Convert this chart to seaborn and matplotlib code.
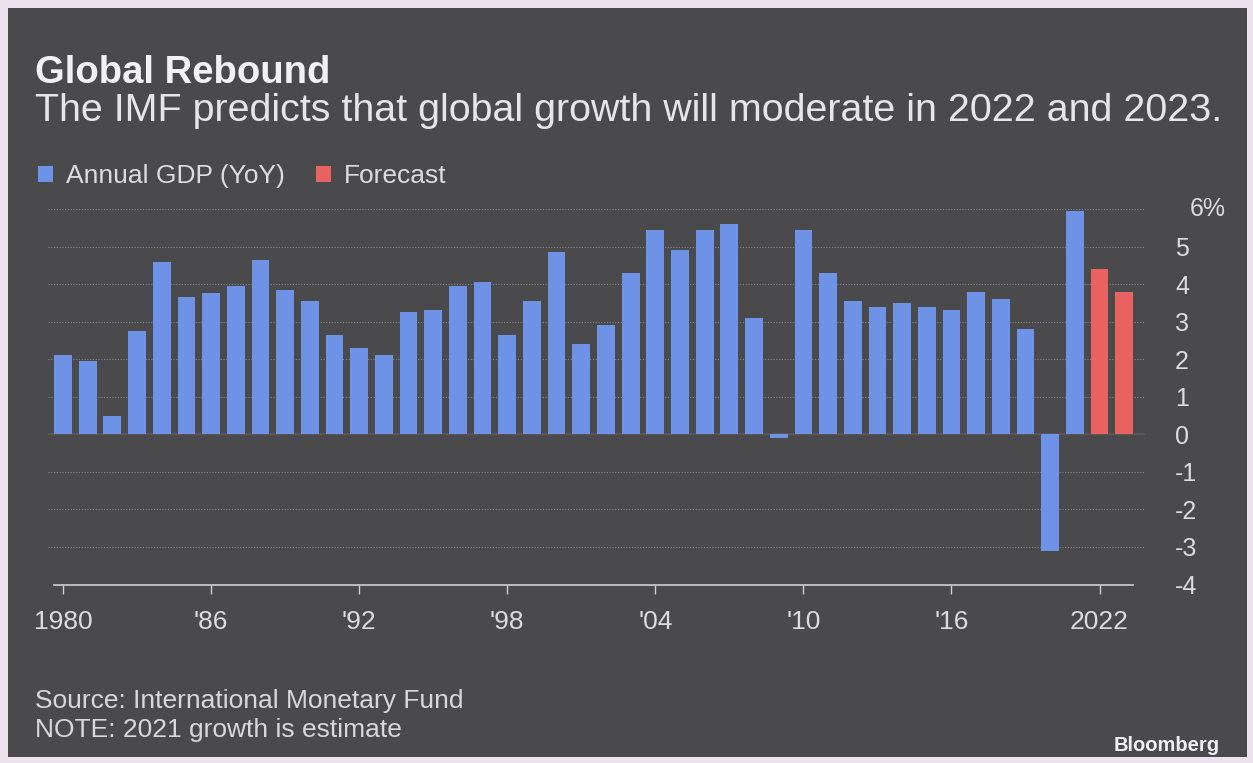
import matplotlib.pyplot as plt
import pandas as pd
import seaborn as sns
from matplotlib.patches import Rectangle

plt.rcParams['font.family'] = ['Liberation Sans', 'DejaVu Sans']

# data
years = list(range(1980, 2024))
gdp = [2.1, 1.95, 0.5, 2.75, 4.6, 3.65, 3.75, 3.95, 4.65, 3.85,
       3.55, 2.65, 2.3, 2.1, 3.25, 3.3, 3.95, 4.05, 2.65, 3.55,
       4.85, 2.4, 2.9, 4.3, 5.45, 4.9, 5.45, 5.6, 3.1, -0.1,
       5.45, 4.3, 3.55, 3.4, 3.5, 3.4, 3.3, 3.8, 3.6, 2.8,
       -3.1, 5.95, 4.4, 3.8]
series = ['Annual GDP (YoY)'] * 42 + ['Forecast'] * 2
tick_years = [1980, 1986, 1992, 1998, 2004, 2010, 2016, 2022]
tick_labels = ['1980', "'86", "'92", "'98", "'04", "'10", "'16", '2022']
y_ticks = list(range(-4, 7))

df = pd.DataFrame({'year': years, 'gdp': gdp, 'series': series})

W, H = 1253, 763
border = '#ebe4ee'
panel = '#4a4a4d'
txt = '#e6e6e6'

fig = plt.figure(figsize=(W / 100, H / 100), dpi=100, facecolor=border)
fig.patches.append(Rectangle((8 / W, 1 - 757 / H), 1239 / W, 749 / H,
                             transform=fig.transFigure, facecolor=panel,
                             edgecolor='none', zorder=-5))

ax = fig.add_axes([48.2 / W, 1 - 584.5 / H, 1097 / W, 375.5 / H])
ax.patch.set_visible(False)

sns.barplot(data=df, x='year', y='gdp', hue='series', order=years,
            palette={'Annual GDP (YoY)': '#6e93e6', 'Forecast': '#e8625f'},
            dodge=False, width=0.72, saturation=1, ax=ax, zorder=2)

handles, labels = ax.get_legend_handles_labels()
ax.get_legend().remove()

# dotted grid + zero line
for v in range(-3, 7):
    ax.axhline(v, ls=(0, (1, 1.5)), color='#b0b0b0', lw=0.8, alpha=0.6, zorder=1)
ax.axhline(0, color='#5e5458', lw=1.5, zorder=1)

ax.set_xlim(-0.6, 43.85)
ax.set_ylim(-4, 6)
ax.set_xticks([years.index(y) for y in tick_years])
ax.set_xticklabels(tick_labels)
ax.set_yticks(y_ticks)
ax.set_yticklabels([str(v) for v in y_ticks[:-1]] + [''])
ax.yaxis.tick_right()
ax.tick_params(axis='y', length=0, pad=21.5, labelsize=18, labelcolor='#dcdcdc')
ax.tick_params(axis='x', length=6.5, width=1, color='#cfcfcf', pad=12,
               labelsize=19, labelcolor='#dcdcdc')
ax.annotate('6%', xy=(1, 6), xycoords=('axes fraction', 'data'),
            xytext=(45, 0), textcoords='offset pixels', va='center', ha='left',
            fontsize=18, color='#dcdcdc')
ax.set_xlabel('')
ax.set_ylabel('')
for s in ['top', 'left', 'right']:
    ax.spines[s].set_visible(False)
ax.spines['bottom'].set_color('#d0d0d0')
ax.spines['bottom'].set_linewidth(1.2)
ax.spines['bottom'].set_bounds(-0.35, 43.35)

fig.legend(handles, labels, loc='center left', bbox_to_anchor=(38 / W, 1 - 176 / H),
           ncol=2, frameon=False, fontsize=19, handlelength=0.55, handleheight=0.55,
           handletextpad=0.5, columnspacing=1.2, borderpad=0, borderaxespad=0,
           labelcolor='#dcdcdc')

fig.text(35 / W, 1 - 83 / H, 'Global Rebound', fontsize=27.5, fontweight='bold',
         color='#f2f2f2', va='baseline')
fig.text(35 / W, 1 - 121 / H,
         'The IMF predicts that global growth will moderate in 2022 and 2023.',
         fontsize=28.4, color=txt, va='baseline')
fig.text(35 / W, 1 - 708 / H, 'Source: International Monetary Fund',
         fontsize=19, color='#d8d8d8', va='baseline')
fig.text(35 / W, 1 - 737 / H, 'NOTE: 2021 growth is estimate',
         fontsize=19, color='#d8d8d8', va='baseline')
fig.text(1220 / W, 1 - 751 / H, 'Bloomberg', fontsize=14.5, fontweight='bold',
         color='#f0f0f0', va='baseline', ha='right')

fig.savefig('out.png', dpi=100, facecolor=border)
